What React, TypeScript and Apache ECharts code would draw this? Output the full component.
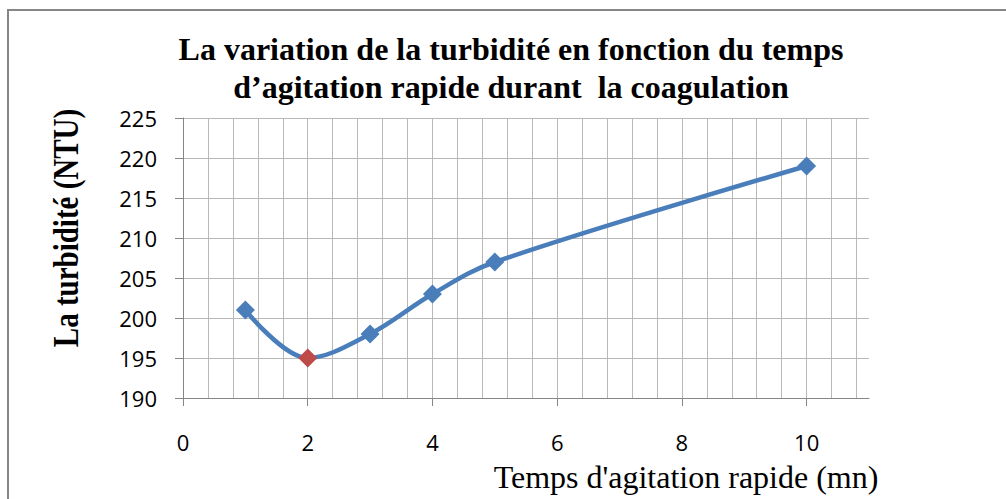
import React, { useEffect, useRef } from "react";
import * as echarts from "echarts";

const titleLines = [
  "La variation de la turbidité en fonction du temps",
  "d’agitation rapide durant  la coagulation",
];
const yAxisName = "La turbidité (NTU)";
const xAxisName = "Temps d'agitation rapide (mn)";
const xValues = [1, 2, 3, 4, 5, 10];
const turbidity = [201, 195, 198, 203, 207, 219];
const highlightIndex = 1;
const xTickValues = [0, 2, 4, 6, 8, 10];

const BLUE = "#4A7EBB";
const RED = "#BE4B48";
const GRID = "#B8B8B8";
const AXIS = "#868686";
const SANS = "'Open Sans', 'Noto Sans', sans-serif";
const SERIF = "'Liberation Serif', 'Times New Roman', serif";

export default function App() {
  const ref = useRef<HTMLDivElement>(null);
  useEffect(() => {
    if (!ref.current) return;
    const chart = echarts.init(ref.current, undefined, { renderer: "svg" });
    const data = xValues.map((x, i) => ({
      value: [x, turbidity[i]],
      itemStyle: { color: i === highlightIndex ? RED : BLUE },
    }));
    chart.setOption({
      animation: false,
      backgroundColor: "#ffffff",
      grid: { left: 183, top: 118, width: 686, height: 280, containLabel: false },
      xAxis: [
        {
          type: "value",
          min: 0,
          max: 11,
          interval: 2,
          axisLine: { show: true, lineStyle: { color: AXIS, width: 1 } },
          axisTick: {
            show: true,
            length: 8,
            inside: false,
            customValues: xTickValues,
            lineStyle: { color: AXIS },
          },
          axisLabel: {
            customValues: xTickValues,
            margin: 33,
            color: "#000",
            fontFamily: SANS,
            fontSize: 22,
          },
          splitLine: { show: false },
        },
        {
          type: "value",
          min: 0,
          max: 11,
          interval: 0.4,
          position: "bottom",
          axisLine: { show: false },
          axisTick: { show: false },
          axisLabel: { show: false },
          splitLine: {
            show: true,
            showMinLine: false,
            showMaxLine: false,
            lineStyle: { color: GRID, width: 1 },
          },
        },
      ],
      yAxis: {
        type: "value",
        min: 190,
        max: 225,
        interval: 5,
        axisLine: { show: true, lineStyle: { color: AXIS, width: 1 } },
        axisTick: { show: true, length: 8, lineStyle: { color: AXIS } },
        axisLabel: {
          margin: 26,
          color: "#000",
          fontFamily: SANS,
          fontSize: 22,
        },
        splitLine: { show: true, lineStyle: { color: GRID, width: 1 } },
      },
      series: [
        {
          type: "line",
          xAxisIndex: 0,
          data,
          smooth: 0.35,
          symbol: "diamond",
          symbolSize: 19,
          lineStyle: { color: BLUE, width: 4.5 },
          itemStyle: { color: BLUE },
        },
      ],
      graphic: [
        {
          type: "rect",
          shape: { x: 8, y: 10, width: 1010, height: 500 },
          style: { fill: "none", stroke: AXIS, lineWidth: 2 },
          silent: true,
        },
        {
          type: "text",
          x: 511,
          y: 49,
          style: {
            text: titleLines[0],
            font: `bold 32px ${SERIF}`,
            fill: "#000",
            textAlign: "center",
            textVerticalAlign: "middle",
          },
        },
        {
          type: "text",
          x: 511,
          y: 87,
          style: {
            text: titleLines[1],
            font: `bold 32px ${SERIF}`,
            fill: "#000",
            textAlign: "center",
            textVerticalAlign: "middle",
          },
        },
        {
          type: "text",
          x: 66,
          y: 228,
          rotation: Math.PI / 2,
          scaleY: 1.25,
          style: {
            text: yAxisName,
            font: `bold 29px ${SERIF}`,
            fill: "#000",
            textAlign: "center",
            textVerticalAlign: "middle",
          },
        },
        {
          type: "text",
          x: 686,
          y: 477,
          style: {
            text: xAxisName,
            font: `32px ${SERIF}`,
            fill: "#000",
            textAlign: "center",
            textVerticalAlign: "middle",
          },
        },
      ],
    });
    return () => chart.dispose();
  }, []);
  return (
    <div
      ref={ref}
      style={{ position: "absolute", left: 0, top: 0, width: 1006, height: 499 }}
    />
  );
}
